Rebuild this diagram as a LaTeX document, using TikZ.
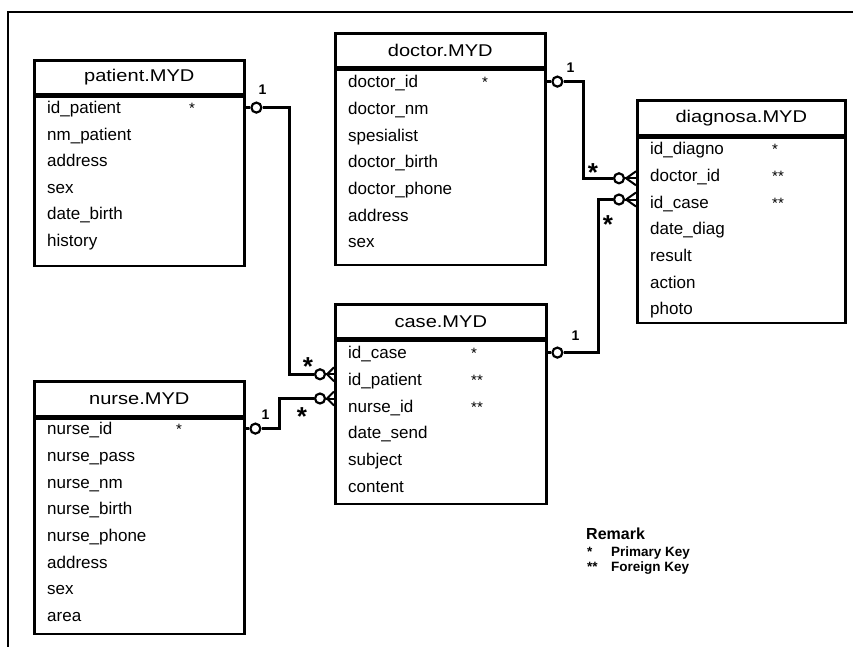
\documentclass[tikz,border=0pt]{standalone}
\usepackage{fontspec}
\setmainfont{Liberation Sans}
\newfontfamily\titlefont[FakeStretch=1.18]{Liberation Sans}
\usetikzlibrary{positioning, calc}

\begin{document}
\begin{tikzpicture}[x=1pt, y=-1pt,
  head/.style={draw, line width=2.6pt, minimum width=210pt, minimum height=34pt, inner sep=0pt,
    font=\titlefont\fontsize{17}{17}\selectfont},
  body/.style={draw, line width=2.6pt, minimum width=210pt, inner sep=0pt},
  field/.style={anchor=west, text width=182pt, inner xsep=14pt, inner ysep=0pt,
    text height=12pt, text depth=0pt, align=left, font=\fontsize{17}{17}\selectfont},
  key/.style={anchor=west, inner sep=0pt, text height=12pt, text depth=0pt,
    font=\fontsize{15}{15}\selectfont},
  rel/.style={line width=2.8pt},
  fork/.style={line width=2pt},
  one/.style={circle, draw, line width=2.2pt, fill=white, minimum size=10pt, inner sep=0pt},
  mult/.style={font=\bfseries\fontsize{14}{14}\selectfont, inner sep=0pt},
  many/.style={font=\bfseries\fontsize{26}{26}\selectfont, inner sep=0pt},
  legend/.style={anchor=west, inner sep=0pt, text height=10pt, text depth=0pt,
    font=\bfseries\fontsize{13.5}{13.5}\selectfont}]
  \useasboundingbox (0,0) rectangle (853,646);
  \draw[line width=2.6pt] (8,660) |- (870,12);

  % patient
  \node[head, anchor=north west] (patient) at (33,59) {patient.MYD};
  \node[body, below=0pt of patient, minimum height=169pt] (patientb) {};
  \foreach \f/\k [count=\i] in {id\_patient/*, nm\_patient/, address/, sex/, date\_birth/, history/}{
    \node[field] (p\i) at ([yshift={-12pt-(\i-1)*26.5pt}]patientb.north west) {\f};
    \node[key] (pk\i) at ([xshift=156pt]p\i.west) {\k};
  }

  % doctor
  \node[head, anchor=north west] (doctor) at (334,32) {doctor.MYD};
  \node[body, below=0pt of doctor, minimum height=195pt] (doctorb) {};
  \foreach \f/\k [count=\i] in {doctor\_id/*, doctor\_nm/, spesialist/, doctor\_birth/, doctor\_phone/, address/, sex/}{
    \node[field] (d\i) at ([yshift={-13pt-(\i-1)*26.7pt}]doctorb.north west) {\f};
    \node[key] (dk\i) at ([xshift=148pt]d\i.west) {\k};
  }

  % diagnosa
  \node[head, anchor=north west, minimum width=208pt, minimum height=35pt] (diagnosa) at (636,99) {diagnosa.MYD};
  \node[body, below=0pt of diagnosa, minimum width=208pt, minimum height=185pt] (diagnosab) {};
  \foreach \f/\k [count=\i] in {id\_diagno/*, doctor\_id/**, id\_case/**, date\_diag/, result/, action/, photo/}{
    \node[field, text width=180pt] (g\i) at ([yshift={-12pt-(\i-1)*26.7pt}]diagnosab.north west) {\f};
    \node[key] (gk\i) at ([xshift=136pt]g\i.west) {\k};
  }

  % case
  \node[head, anchor=north west, minimum width=211pt] (case) at (334,303) {case.MYD};
  \node[body, below=0pt of case, minimum width=211pt, minimum height=163pt] (caseb) {};
  \foreach \f/\k [count=\i] in {id\_case/*, id\_patient/**, nurse\_id/**, date\_send/, subject/, content/}{
    \node[field, text width=183pt] (c\i) at ([yshift={-13pt-(\i-1)*26.7pt}]caseb.north west) {\f};
    \node[key] (ck\i) at ([xshift=137pt]c\i.west) {\k};
  }

  % nurse
  \node[head, anchor=north west, minimum height=35pt] (nurse) at (33,380) {nurse.MYD};
  \node[body, below=0pt of nurse, minimum height=215pt] (nurseb) {};
  \foreach \f/\k [count=\i] in {nurse\_id/*, nurse\_pass/, nurse\_nm/, nurse\_birth/, nurse\_phone/, address/, sex/, area/}{
    \node[field] (n\i) at ([yshift={-11pt-(\i-1)*26.7pt}]nurseb.north west) {\f};
    \node[key] (nk\i) at ([xshift=143pt]n\i.west) {\k};
  }

  % relations
  \coordinate (pcfoot) at ([yshift=5pt]c2.west);
  \coordinate (ncfoot) at ([yshift=7.5pt]c3.west);
  \coordinate (dgfoot) at ([yshift=-3pt]g2.west);
  \coordinate (cgfoot) at ([yshift=2.5pt]g3.west);

  \node[one] (po) at ([xshift=13pt]p1.east) {};
  \node[one] (pm) at ([xshift=-14pt]pcfoot) {};
  \node[one] (do) at ([xshift=13pt]d1.east) {};
  \node[one] (dm) at ([xshift=-17pt]dgfoot) {};
  \node[one] (co) at ([xshift=12pt]c1.east) {};
  \node[one] (cm) at ([xshift=-17pt]cgfoot) {};
  \node[one] (no) at ([xshift=12pt]n1.east) {};
  \node[one] (nm) at ([xshift=-14pt]ncfoot) {};

  \draw[rel] (p1.east) -- (po.west);
  \draw[rel] (po.east) -- ++(27,0) |- (pm.west);
  \draw[rel] (d1.east) -- (do.west);
  \draw[rel] (do.east) -- ++(20,0) |- (dm.west);
  \draw[rel] (c1.east) -- (co.west);
  \draw[rel] (co.east) -- ++(35,0) |- (cm.west);
  \draw[rel] (n1.east) -- (no.west);
  \draw[rel] (no.east) -- ++(18,0) |- (nm.west);

  \foreach \m/\t in {pm/pcfoot, nm/ncfoot, dm/dgfoot, cm/cgfoot}{
    \draw[fork] (\m.east) -- (\t);
    \draw[fork] ([xshift=1pt]\m.east) -- ([yshift=7pt]\t);
    \draw[fork] ([xshift=1pt]\m.east) -- ([yshift=-7pt]\t);
  }

  \node[mult] (pol) at ([shift={(6,-18)}]po) {1};
  \node[mult] (dol) at ([shift={(13,-14)}]do) {1};
  \node[mult] (col) at ([shift={(18,-17)}]co) {1};
  \node[mult] (nol) at ([shift={(10,-14)}]no) {1};
  \node[many] (pml) at ([shift={(-12,-8)}]pm) {*};
  \node[many] (nml) at ([shift={(-18,18)}]nm) {*};
  \node[many] (dml) at ([shift={(-26,-6)}]dm) {*};
  \node[many] (cml) at ([shift={(-11,25)}]cm) {*};

  % remark
  \node[anchor=west, inner sep=0pt, font=\bfseries\fontsize{16}{16}\selectfont] (remark) at (586,534) {Remark};
  \node[legend] (pkey) at ([shift={(25,17)}]remark.west) {Primary Key};
  \node[legend] (fkey) at ([shift={(25,32)}]remark.west) {Foreign Key};
  \node[legend] (pstar) at ([xshift=-24pt]pkey.west) {*};
  \node[legend] (fstar) at ([xshift=-24pt]fkey.west) {**};
\end{tikzpicture}
\end{document}
